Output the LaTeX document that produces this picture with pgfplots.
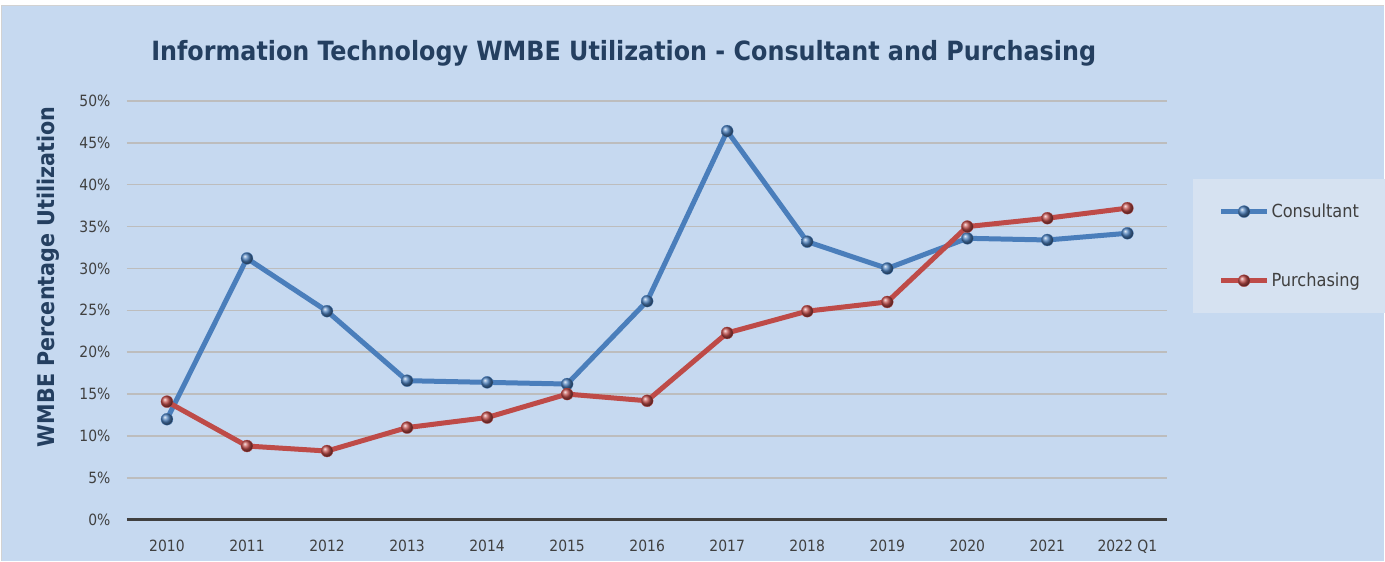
\documentclass[border=0pt]{standalone}
\usepackage{pgfplots}
\pgfplotsset{compat=1.18}
\usepackage{fontspec}
\setmainfont{DejaVu Sans Condensed}
\definecolor{bgc}{HTML}{C6D9F0}
\definecolor{legc}{HTML}{D6E2F1}
\definecolor{titc}{HTML}{243F60}
\definecolor{tickc}{HTML}{404040}
\definecolor{gridc}{HTML}{BDBDBD}
\definecolor{cblue}{HTML}{4A7EBB}
\definecolor{cred}{HTML}{BE4B48}
\begin{document}
\begin{tikzpicture}
\fill[white] (0,0) rectangle (1385bp,561bp);
\fill[bgc] (1bp,0) rectangle (1385bp,556bp);
\draw[gray!35, line width=1.5bp] (1.5bp,0) -- (1.5bp,555.5bp) -- (1385bp,555.5bp);
\useasboundingbox (0,0) rectangle (1385bp,561bp);
\node[font=\fontsize{26.5bp}{30bp}\selectfont\bfseries, text=titc] at (624bp,508bp) {Information Technology WMBE Utilization - Consultant and Purchasing};
\node[font=\fontsize{23bp}{27bp}\selectfont\bfseries, text=titc, rotate=90] at (48bp,284bp) {WMBE Percentage Utilization};
\begin{axis}[
  at={(127bp,41bp)}, anchor=south west,
  scale only axis, width=1041bp, height=419bp,
  xmin=-0.5, xmax=12.5, ymin=0, ymax=50,
  xtick={0,...,12},
  xticklabels={2010,2011,2012,2013,2014,2015,2016,2017,2018,2019,2020,2021,2022 Q1},
  ytick={0,5,...,50},
  yticklabel={\pgfmathprintnumber{\tick}\%},
  /pgf/number format/assume math mode=true,
  ymajorgrids, major grid style={gridc, line width=1.5bp},
  major tick length=0pt,
  axis x line*=bottom, axis y line*=left,
  axis line style={-},
  x axis line style={draw=tickc, line width=3bp},
  y axis line style={draw=none},
  ticklabel style={font=\fontsize{15.5bp}{18bp}\selectfont, text=tickc},
  xticklabel style={yshift=-17bp},
  yticklabel style={xshift=-13bp},
  clip=false,
  legend style={at={(1.024,0.814)}, anchor=north west, fill=legc, draw=none,
    font=\fontsize{18bp}{21bp}\selectfont, text=tickc,
    inner xsep=26bp, inner ysep=23bp, row sep=50bp},
  legend cell align=left,
  legend image code/.code={\draw[mark repeat=2,mark phase=2,#1] plot coordinates {(0bp,0bp)(23bp,0bp)(46bp,0bp)};},
]
\addplot[cblue, line width=5bp, mark=ball, mark size=6bp, mark options={ball color=cblue, line width=0.3bp}] coordinates {
(0,12.0)(1,31.2)(2,24.9)(3,16.6)(4,16.4)(5,16.2)(6,26.1)(7,46.4)(8,33.2)(9,30.0)(10,33.6)(11,33.4)(12,34.2)};
\addlegendentry{Consultant}
\addplot[cred, line width=5bp, mark=ball, mark size=6bp, mark options={ball color=cred, line width=0.3bp}] coordinates {
(0,14.1)(1,8.8)(2,8.2)(3,11.0)(4,12.2)(5,15.0)(6,14.2)(7,22.3)(8,24.9)(9,26.0)(10,35.0)(11,36.0)(12,37.2)};
\addlegendentry{Purchasing}
\end{axis}
\end{tikzpicture}
\end{document}
